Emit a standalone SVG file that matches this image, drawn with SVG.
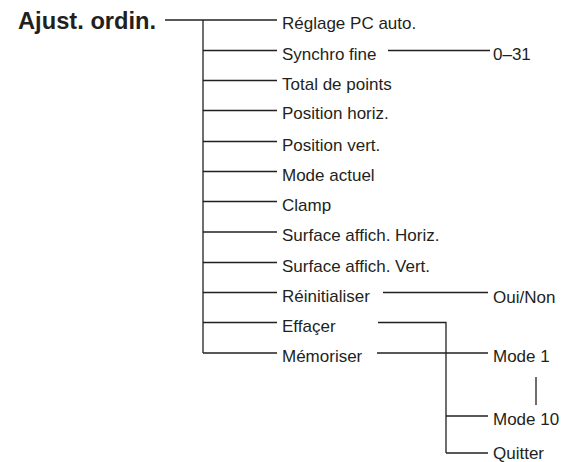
<svg xmlns="http://www.w3.org/2000/svg" width="578" height="462" viewBox="0 0 578 462">
<style>
text{font-family:"Liberation Sans",Arial,sans-serif;font-size:17px;fill:#231f20}
.t{font-weight:bold;font-size:23.7px}
#connectors line,#connectors path{stroke:#231f20;stroke-width:1.3;fill:none}
</style>
<rect width="578" height="462" fill="#fff"/>
<g id="connectors">
<line x1="165" y1="20" x2="277" y2="20"/>
<line x1="203" y1="20" x2="203" y2="353"/>
<line x1="203" y1="50.5" x2="277" y2="50.5"/>
<line x1="203" y1="80.5" x2="277" y2="80.5"/>
<line x1="203" y1="110.5" x2="277" y2="110.5"/>
<line x1="203" y1="141.5" x2="277" y2="141.5"/>
<line x1="203" y1="171.5" x2="277" y2="171.5"/>
<line x1="203" y1="201.5" x2="277" y2="201.5"/>
<line x1="203" y1="232" x2="277" y2="232"/>
<line x1="203" y1="262.5" x2="277" y2="262.5"/>
<line x1="203" y1="292.5" x2="277" y2="292.5"/>
<line x1="203" y1="322.5" x2="277" y2="322.5"/>
<line x1="203" y1="353" x2="277" y2="353"/>
<line x1="388" y1="50.5" x2="490" y2="50.5"/>
<line x1="383" y1="292.5" x2="488" y2="292.5"/>
<path d="M378 322.5H446V453"/>
<line x1="377" y1="353" x2="488" y2="353"/>
<line x1="446" y1="416" x2="488" y2="416"/>
<line x1="446" y1="453" x2="488" y2="453"/>
<line x1="536" y1="377" x2="536" y2="405"/>
</g>
<g id="root"><text class="t" x="18" y="29">Ajust. ordin.</text></g>
<g id="n1"><text x="282" y="29">Réglage PC auto.</text></g>
<g id="n2"><text x="282" y="59.5">Synchro fine</text></g>
<g id="n3"><text x="282" y="89.5">Total de points</text></g>
<g id="n4"><text x="282" y="119">Position horiz.</text></g>
<g id="n5"><text x="282" y="150.5">Position vert.</text></g>
<g id="n6"><text x="282" y="180.5">Mode actuel</text></g>
<g id="n7"><text x="282" y="210.5">Clamp</text></g>
<g id="n8"><text x="282" y="241">Surface affich. Horiz.</text></g>
<g id="n9"><text x="282" y="271.5">Surface affich. Vert.</text></g>
<g id="n10"><text x="282" y="301.5">Réinitialiser</text></g>
<g id="n11"><text x="282" y="331.5">Effaçer</text></g>
<g id="n12"><text x="282" y="362">Mémoriser</text></g>
<g id="s1"><text x="493" y="59.5">0–31</text></g>
<g id="s2"><text x="493" y="302.5">Oui/Non</text></g>
<g id="s3"><text x="493" y="362">Mode 1</text></g>
<g id="s4"><text x="493" y="425">Mode 10</text></g>
<g id="s5"><text x="493" y="458.5">Quitter</text></g>
</svg>
